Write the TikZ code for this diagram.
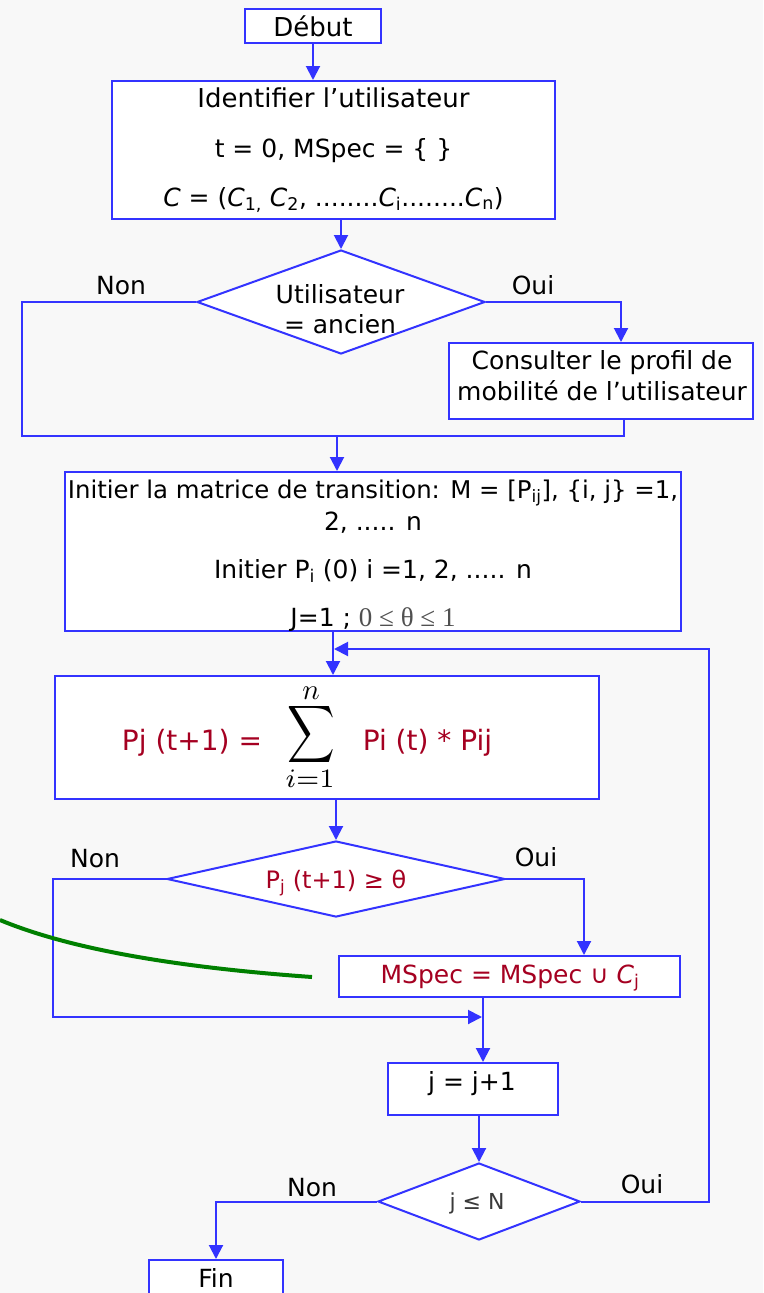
\documentclass[tikz,border=0pt]{standalone}
\usepackage{graphicx}
\usepackage{fontspec}
\setmainfont{DejaVu Sans}
\newfontfamily\serifgr{Liberation Serif}
\usetikzlibrary{arrows.meta,shapes.geometric}
\definecolor{lblue}{RGB}{51,51,255}
\definecolor{fred}{RGB}{165,0,33}
\definecolor{bgc}{RGB}{248,248,248}
\definecolor{cgreen}{RGB}{0,128,0}
\definecolor{tgray}{RGB}{80,80,80}
\definecolor{dgray}{RGB}{58,58,58}
\begin{document}
\begin{tikzpicture}[x=1pt,y=-1pt,
  box/.style={draw=lblue,line width=2pt,fill=white,rectangle,inner sep=0pt},
  dia/.style={draw=lblue,line width=2pt,fill=white,diamond,inner sep=0pt},
  conn/.style={draw=lblue,line width=2pt},
  arr/.style={conn,-{Triangle[width=14pt,length=14pt]}},
  txt/.style={inner sep=0pt,anchor=base,font=\fontsize{25}{30}\selectfont},
  rtxt/.style={txt,text=fred},
  mth/.style={inner sep=0pt},
  ]
\fill[bgc] (0,0) rectangle (763,1293);
\useasboundingbox (0,0) rectangle (763,1293);

% boxes
\node[box,minimum width=136pt,minimum height=34pt] (debut) at (313,26) {};
\node[txt,font=\fontsize{26}{30}\selectfont] (debutT) at (313,36) {Début};
\node[box,minimum width=443pt,minimum height=138pt] (ident) at (333.5,150) {};
\node[txt,font=\fontsize{26}{30}\selectfont] (identA) at (333.5,107) {Identifier l’utilisateur};
\node[txt] (identB) at (333.5,157) {t = 0, MSpec = \{ \}};
\node[txt] (identC) at (333.5,206) {\textit{C} = (\textit{C}\textsubscript{1,} \textit{C}\textsubscript{2}, ........\textit{C}\textsubscript{i}........\textit{C}\textsubscript{n})};

\node[dia,minimum width=288pt,minimum height=104pt] (d1) at (341,302) {};
\node[txt] (d1A) at (340,303) {Utilisateur};
\node[txt] (d1B) at (340,333) {= ancien};
\node[txt] (non1) at (121,294) {Non};
\node[txt] (oui1) at (533,294) {Oui};

\node[box,minimum width=304.5pt,minimum height=76pt] (consult) at (600.75,381) {};
\node[txt] (consA) at (602,369) {Consulter le profil de};
\node[txt] (consB) at (602,400) {mobilité de l’utilisateur};

\node[box,minimum width=616pt,minimum height=159pt] (init) at (373,551.5) {};
\node[txt,font=\fontsize{24.4}{30}\selectfont] (initA) at (373,498) {Initier la matrice de transition: M = [P\textsubscript{ij}], \{i, j\} =1,};
\node[txt] (initB) at (373,530) {2, ..... n};
\node[txt] (initC) at (373,578) {Initier P\textsubscript{i} (0) i =1, 2, ..... n};
\node[txt] (initD) at (373,626) {J=1 ; {\serifgr\fontsize{27}{30}\selectfont\color{tgray}0 ≤ θ ≤ 1}};

\node[box,minimum width=544pt,minimum height=123pt] (form) at (327,737.5) {};
\node[rtxt,font=\fontsize{28}{30}\selectfont] (formA) at (192,750) {Pj (t+1) =};
\node[mth,anchor=base] (formS) at (311,744) {\smash{\scalebox{3.3}[4.0]{$\displaystyle\sum$}}};
\node[mth] (formN) at (311,693) {\scalebox{2.9}{$n$}};
\node[mth] (formI) at (310,779) {\scalebox{3.8}{$\scriptstyle i=1$}};
\node[rtxt,font=\fontsize{28}{30}\selectfont] (formB) at (427.5,750) {Pi (t) * Pij};

\node[dia,minimum width=338pt,minimum height=76pt] (d2) at (336,879) {};
\node[rtxt,font=\fontsize{24}{30}\selectfont] (d2T) at (336,888) {P\textsubscript{j} (t+1) ≥ θ};
\node[txt] (non2) at (95,867) {Non};
\node[txt] (oui2) at (536,866) {Oui};

\node[box,minimum width=341pt,minimum height=41pt] (mspec) at (509.5,976.5) {};
\node[rtxt] (mspecT) at (510,983) {MSpec = MSpec ∪ \textit{C}\textsubscript{j}};

\node[box,minimum width=170pt,minimum height=52pt] (jb) at (473,1089) {};
\node[txt] (jbT) at (472,1090) {j = j+1};

\node[dia,minimum width=202pt,minimum height=77pt] (d3) at (479,1201.5) {};
\node[txt,text=dgray,font=\fontsize{22}{26}\selectfont] (d3T) at (477,1209) {j ≤ N};
\node[txt] (non3) at (312,1196) {Non};
\node[txt] (oui3) at (642,1193) {Oui};

\node[box,minimum width=134pt,minimum height=44pt] (fin) at (216,1282) {};
\node[txt] (finT) at (216,1287) {Fin};

% coordinates
\coordinate (n1c) at (21.5,436);
\coordinate (m1r) at (624,436);
\coordinate (m1) at (337,436);
\coordinate (o1) at (621,302);
\coordinate (lp) at (333,649);
\coordinate (lc) at (709,649);
\coordinate (n2c) at (53,1017);
\coordinate (m2) at (483,1017);
\coordinate (o2) at (584,879);
\coordinate (g0) at (0,920);
\coordinate (g1) at (312,977);

% connectors
\draw[arr] (debut.south) -- (debut.south |- ident.north);
\draw[arr] (d1.north |- ident.south) -- (d1.north);
\draw[conn] (d1.west) -| (n1c) -- (m1r) -- (m1r |- consult.south);
\draw[arr] (d1.east) -- (o1) -- (o1 |- consult.north);
\draw[arr] (m1) -- (m1 |- init.north);
\draw[arr] (lp |- init.south) -- (lp |- form.north);
\draw[arr,shorten >=1pt] (d3.east) -| (lc) -- (lp);
\draw[arr] (d2.north |- form.south) -- (d2.north);
\draw[arr,shorten >=1pt] (d2.west) -| (n2c) -- (m2);
\draw[arr] (d2.east) -- (o2) -- (o2 |- mspec.north);
\draw[arr] (m2 |- mspec.south) -- (m2 |- jb.north);
\draw[arr] (d3.north |- jb.south) -- (d3.north);
\draw[arr] (d3.west) -| (fin.north);
\draw[cgreen,line width=4pt] (g0) .. controls (67,948) and (171,967) .. (g1);
\end{tikzpicture}
\end{document}
